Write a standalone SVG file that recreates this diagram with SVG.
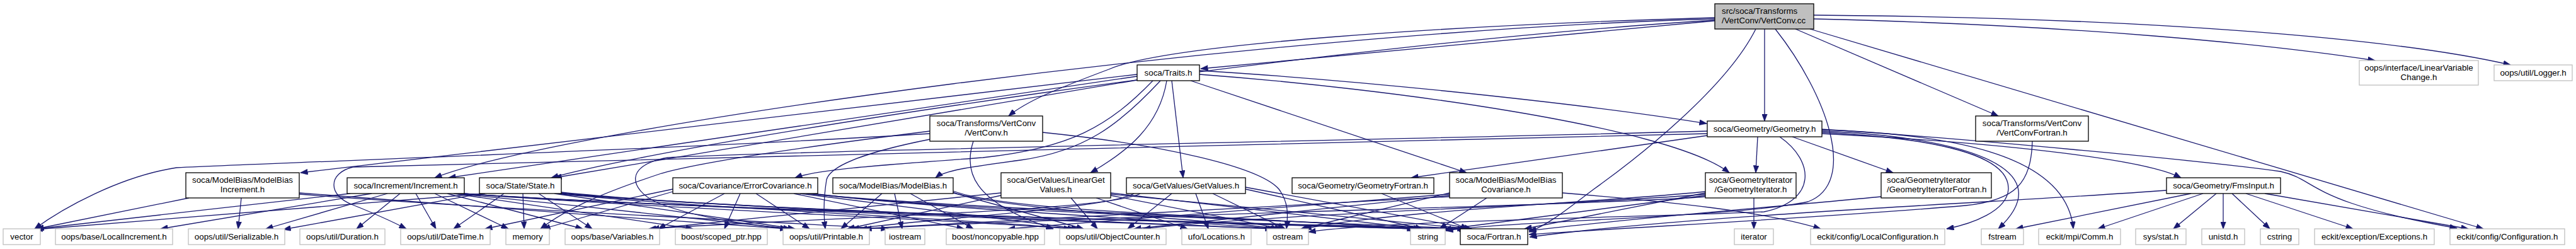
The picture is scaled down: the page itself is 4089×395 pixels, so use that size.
<svg xmlns="http://www.w3.org/2000/svg" width="4089" height="395" viewBox="0 0 4089 395">
<style>
rect{stroke-width:1.3}
.n rect{fill:#fff;stroke:#000}
.l rect{fill:#fff;stroke:#bfbfbf}
.m rect{fill:#bfbfbf;stroke:#000}
text{font-family:"Liberation Sans",Arial,Helvetica,sans-serif;font-size:13.33px;fill:#000;text-anchor:middle}
text.s{text-anchor:start}
#edges path{fill:none;stroke:#191970;stroke-width:1.3;marker-end:url(#arr)}
</style>
<defs>
<marker id="arr" markerUnits="userSpaceOnUse" markerWidth="12" markerHeight="9" viewBox="0 0 12 9" refX="11.5" refY="4.5" orient="auto">
<path d="M0,0 L12,4.5 L0,9 Z" fill="#191970" stroke="#191970" stroke-width="0.5"/>
</marker>
</defs>
<rect width="4089" height="395" fill="#fff"/>
<g id="edges">
<!-- main -->
<path d="M2722,33 L1906,109"/>
<path d="M2722,28 C2300,40 1850,70 1760,110 C1680,140 1630,160 1601,184"/>
<path d="M2722,30 C2000,50 900,200 690,282"/>
<path d="M2722,32 C2100,70 1100,220 875,282"/>
<path d="M2801,46 L2801,192"/>
<path d="M2850,46 L3172,184"/>
<path d="M2879,30 C3300,40 3600,70 3770,96"/>
<path d="M2879,24 C3400,28 3800,60 3985,103"/>
<path d="M2873,46 L3942,363"/>
<path d="M2787,46 C2740,140 2600,250 2530,300 C2490,330 2460,355 2427,368"/>
<path d="M2818,46 C2900,150 2950,290 2870,320 C2750,345 2400,350 2295,366"/>
<!-- Traits -->
<path d="M1805,118 L477,274"/>
<path d="M1805,121 L712,282"/>
<path d="M1805,127 L880,282"/>
<path d="M1830,128 C1760,200 1700,235 1560,250 C1400,262 1300,268 1262,282"/>
<path d="M1842,128 C1775,200 1720,240 1620,254 C1545,264 1500,270 1485,282"/>
<path d="M1852,128 C1840,200 1790,240 1731,274"/>
<path d="M1860,128 L1878,282"/>
<path d="M1890,128 L2328,274"/>
<path d="M1904,118 C2200,140 2650,200 2745,274"/>
<path d="M1904,112 C2200,130 2550,170 2709,196"/>
<!-- VertConv.h -->
<path d="M1476,212 C1100,235 500,256 280,266 C190,280 100,330 55,363"/>
<path d="M1476,208 C1300,230 1120,255 1050,275 C960,305 900,330 858,363"/>
<path d="M1655,210 C1850,230 2000,265 2030,300 C2045,320 2045,340 2042,363"/>
<path d="M1476,221 C1380,240 1318,262 1312,285 C1308,310 1307,340 1310,363"/>
<path d="M1545,224 C1530,270 1540,320 1672,363"/>
<!-- Geometry.h -->
<path d="M2710,215 L2240,282"/>
<path d="M2790,217 L2787,274"/>
<path d="M2845,217 L3005,274"/>
<path d="M2892,212 C3150,225 3400,250 3462,282"/>
<path d="M2892,206 C3080,212 3280,240 3291,363"/>
<path d="M2892,208 C3100,216 3280,262 3172,363"/>
<path d="M2892,210 C3050,218 3190,240 3188,300 C3186,335 3130,355 3090,363"/>
<path d="M2892,205 C3100,218 3500,255 3620,272 C3680,285 3660,320 3900,362"/>
<path d="M2825,217 C2880,255 2885,318 2800,336 C2600,345 2200,350 2077,368"/>
<path d="M2710,208 C2200,222 1300,238 1060,250 C990,262 1000,300 1040,320 C1100,345 1180,355 1250,363"/>
<path d="M2710,212 C2000,232 900,250 560,265 C520,275 520,310 560,325 C590,337 620,350 645,363"/>
<!-- FmsInput -->
<path d="M3478,307 L3200,363"/>
<path d="M3497,307 L3330,363"/>
<path d="M3518,307 L3450,363"/>
<path d="M3529,307 L3529,363"/>
<path d="M3543,307 L3603,363"/>
<path d="M3565,307 L3735,363"/>
<path d="M3595,307 L3918,363"/>
<path d="M3439,302 C3200,320 2700,340 2428,376"/>
<!-- VertConvFortran -->
<path d="M3226,224 C3224,290 3200,318 3120,326 C2900,345 2600,360 2427,372"/>
<!-- GeometryIteratorFortran -->
<path d="M2986,312 C2800,330 2600,345 2427,366"/>
<!-- GeometryIterator -->
<path d="M2784,314 L2784,363"/>
<path d="M2707,310 L2292,364"/>
<path d="M2707,306 L2420,363"/>
<path d="M2707,312 C2550,325 1800,340 1372,363"/>
<path d="M2707,308 C2550,323 2000,340 1815,363"/>
<path d="M2707,304 C2550,320 2200,335 2070,363"/>
<!-- ModelBiasCovariance -->
<path d="M2360,314 L2285,363"/>
<path d="M2480,306 C2650,320 2800,335 2890,363"/>
<path d="M2301,312 L1365,363"/>
<path d="M2301,308 L1600,363"/>
<path d="M2301,310 L1800,363"/>
<path d="M2301,306 L2065,363"/>
<!-- GeometryFortran -->
<path d="M2193,307 L2330,363"/>
<!-- GetValues -->
<path d="M1860,307 L1790,363"/>
<path d="M1898,307 L1918,363"/>
<path d="M1925,307 L2040,363"/>
<path d="M1977,300 L2258,363"/>
<path d="M1977,297 L2336,363"/>
<path d="M1800,307 C1760,330 1500,345 1352,363"/>
<path d="M1810,307 C1760,335 1300,345 1030,363"/>
<!-- LinearGetValues -->
<path d="M1700,314 L1742,363"/>
<path d="M1740,314 L1885,363"/>
<path d="M1763,310 L2035,363"/>
<path d="M1763,306 L2255,363"/>
<path d="M1763,308 L2333,363"/>
<path d="M1589,310 L1345,363"/>
<path d="M1589,306 L1035,363"/>
<!-- ModelBias -->
<path d="M1400,307 L1335,363"/>
<path d="M1420,307 L1432,363"/>
<path d="M1445,307 L1545,363"/>
<path d="M1513,303 C1600,335 1900,340 2252,363"/>
<path d="M1513,306 L1720,363"/>
<path d="M1513,305 C1600,335 1900,345 2030,363"/>
<!-- ErrorCovariance -->
<path d="M1150,307 L1045,363"/>
<path d="M1175,307 L1150,363"/>
<path d="M1200,307 L1285,363"/>
<path d="M1068,300 L770,363"/>
<path d="M1068,304 L862,363"/>
<path d="M1270,307 L1712,363"/>
<path d="M1260,307 L1530,363"/>
<path d="M1280,307 C1500,330 2000,345 2250,363"/>
<path d="M1285,307 C1500,332 1800,345 2028,363"/>
<path d="M1290,307 C1500,334 2000,348 2330,363"/>
<!-- State -->
<path d="M770,307 L56,364"/>
<path d="M800,307 L720,363"/>
<path d="M830,307 L832,363"/>
<path d="M855,307 L940,363"/>
<path d="M880,307 L1262,363"/>
<path d="M885,307 C1100,330 1500,345 1706,363"/>
<path d="M888,307 C1200,333 1700,348 2024,363"/>
<path d="M890,306 C1200,335 1800,350 2248,363"/>
<path d="M891,305 C1200,337 1900,352 2328,364"/>
<path d="M765,307 L450,364"/>
<!-- Increment -->
<path d="M556,307 L58,363"/>
<path d="M590,307 L255,363"/>
<path d="M615,307 L422,363"/>
<path d="M635,307 L566,363"/>
<path d="M660,307 L692,363"/>
<path d="M690,307 L807,363"/>
<path d="M710,307 L925,363"/>
<path d="M725,307 C900,325 1100,345 1255,363"/>
<path d="M730,307 C1000,328 1500,348 1700,363"/>
<path d="M733,307 C1100,330 1700,350 2020,363"/>
<path d="M735,307 C1100,332 1900,352 2245,363"/>
<path d="M736,307 C1100,334 2000,354 2325,363"/>
<path d="M720,307 L1100,363"/>
<!-- ModelBiasIncrement -->
<path d="M300,314 L58,363"/>
<path d="M383,314 L378,363"/>
<path d="M475,306 C700,325 1000,345 1250,363"/>
<path d="M475,308 C750,330 1200,350 1410,363"/>
</g>
<g id="node-main" class="m"><rect x="2722" y="6" width="157" height="40"/><text class="s" x="2733" y="22">src/soca/Transforms</text><text class="s" x="2733" y="37">/VertConv/VertConv.cc</text></g>
<g id="node-traits" class="n"><rect x="1805" y="103" width="99" height="25"/><text x="1854.5" y="120">soca/Traits.h</text></g>
<g id="node-lvc" class="l"><rect x="3745" y="96" width="189" height="39"/><text x="3839.5" y="112">oops/interface/LinearVariable</text><text x="3839.5" y="127">Change.h</text></g>
<g id="node-logger" class="l"><rect x="3959" y="103" width="124" height="25"/><text x="4021" y="120">oops/util/Logger.h</text></g>
<g id="node-vertconv" class="n"><rect x="1476" y="184" width="179" height="40"/><text x="1565.5" y="200">soca/Transforms/VertConv</text><text x="1565.5" y="215">/VertConv.h</text></g>
<g id="node-geometry" class="n"><rect x="2710" y="192" width="182" height="25"/><text x="2801" y="209">soca/Geometry/Geometry.h</text></g>
<g id="node-vcfortran" class="n"><rect x="3136" y="184" width="179" height="40"/><text x="3225.5" y="200">soca/Transforms/VertConv</text><text x="3225.5" y="215">/VertConvFortran.h</text></g>
<g id="node-mbinc" class="n"><rect x="295" y="274" width="180" height="40"/><text x="385" y="290">soca/ModelBias/ModelBias</text><text x="385" y="305">Increment.h</text></g>
<g id="node-increment" class="n"><rect x="551" y="282" width="186" height="25"/><text x="644" y="299">soca/Increment/Increment.h</text></g>
<g id="node-state" class="n"><rect x="761" y="282" width="130" height="25"/><text x="826" y="299">soca/State/State.h</text></g>
<g id="node-errcov" class="n"><rect x="1068" y="282" width="230" height="25"/><text x="1183" y="299">soca/Covariance/ErrorCovariance.h</text></g>
<g id="node-modelbias" class="n"><rect x="1322" y="282" width="191" height="25"/><text x="1417.5" y="299">soca/ModelBias/ModelBias.h</text></g>
<g id="node-lingetval" class="n"><rect x="1589" y="274" width="174" height="40"/><text x="1676" y="290">soca/GetValues/LinearGet</text><text x="1676" y="305">Values.h</text></g>
<g id="node-getvalues" class="n"><rect x="1788" y="282" width="189" height="25"/><text x="1882.5" y="299">soca/GetValues/GetValues.h</text></g>
<g id="node-geomfortran" class="n"><rect x="2051" y="282" width="225" height="25"/><text x="2163.5" y="299">soca/Geometry/GeometryFortran.h</text></g>
<g id="node-mbcov" class="n"><rect x="2301" y="274" width="179" height="40"/><text x="2390.5" y="290">soca/ModelBias/ModelBias</text><text x="2390.5" y="305">Covariance.h</text></g>
<g id="node-geomiter" class="n"><rect x="2707" y="274" width="144" height="40"/><text x="2779" y="290">soca/GeometryIterator</text><text x="2779" y="305">/GeometryIterator.h</text></g>
<g id="node-gifortran" class="n"><rect x="2986" y="274" width="175" height="40"/><text class="s" x="2995" y="290">soca/GeometryIterator</text><text class="s" x="2995" y="305">/GeometryIteratorFortran.h</text></g>
<g id="node-fmsinput" class="n"><rect x="3439" y="282" width="181" height="25"/><text x="3529.5" y="299">soca/Geometry/FmsInput.h</text></g>
<g id="node-vector" class="l"><rect x="5" y="363" width="59" height="25"/><text x="34.5" y="380">vector</text></g>
<g id="node-localinc" class="l"><rect x="88" y="363" width="186" height="25"/><text x="181" y="380">oops/base/LocalIncrement.h</text></g>
<g id="node-serializable" class="l"><rect x="299" y="363" width="153" height="25"/><text x="375.5" y="380">oops/util/Serializable.h</text></g>
<g id="node-duration" class="l"><rect x="476" y="363" width="135" height="25"/><text x="543.5" y="380">oops/util/Duration.h</text></g>
<g id="node-datetime" class="l"><rect x="636" y="363" width="142" height="25"/><text x="707" y="380">oops/util/DateTime.h</text></g>
<g id="node-memory" class="l"><rect x="803" y="363" width="69" height="25"/><text x="837.5" y="380">memory</text></g>
<g id="node-variables" class="l"><rect x="897" y="363" width="150" height="25"/><text x="972" y="380">oops/base/Variables.h</text></g>
<g id="node-scopedptr" class="l"><rect x="1072" y="363" width="146" height="25"/><text x="1145" y="380">boost/scoped_ptr.hpp</text></g>
<g id="node-printable" class="l"><rect x="1243" y="363" width="137" height="25"/><text x="1311.5" y="380">oops/util/Printable.h</text></g>
<g id="node-iostream" class="l"><rect x="1405" y="363" width="63" height="25"/><text x="1436.5" y="380">iostream</text></g>
<g id="node-noncopyable" class="l"><rect x="1502" y="363" width="156" height="25"/><text x="1580" y="380">boost/noncopyable.hpp</text></g>
<g id="node-objcounter" class="l"><rect x="1682" y="363" width="169" height="25"/><text x="1766.5" y="380">oops/util/ObjectCounter.h</text></g>
<g id="node-locations" class="l"><rect x="1876" y="363" width="110" height="25"/><text x="1931" y="380">ufo/Locations.h</text></g>
<g id="node-ostream" class="l"><rect x="2011" y="363" width="66" height="25"/><text x="2044" y="380">ostream</text></g>
<g id="node-string" class="l"><rect x="2239" y="363" width="55" height="25"/><text x="2266.5" y="380">string</text></g>
<g id="node-fortran" class="n"><rect x="2318" y="363" width="107" height="25"/><text x="2371.5" y="380">soca/Fortran.h</text></g>
<g id="node-iterator" class="l"><rect x="2753" y="363" width="62" height="25"/><text x="2784" y="380">iterator</text></g>
<g id="node-localconf" class="l"><rect x="2874" y="363" width="213" height="25"/><text x="2980.5" y="380">eckit/config/LocalConfiguration.h</text></g>
<g id="node-fstream" class="l"><rect x="3145" y="363" width="67" height="25"/><text x="3178.5" y="380">fstream</text></g>
<g id="node-comm" class="l"><rect x="3236" y="363" width="130" height="25"/><text x="3301" y="380">eckit/mpi/Comm.h</text></g>
<g id="node-stat" class="l"><rect x="3390" y="363" width="80" height="25"/><text x="3430" y="380">sys/stat.h</text></g>
<g id="node-unistd" class="l"><rect x="3495" y="363" width="68" height="25"/><text x="3529" y="380">unistd.h</text></g>
<g id="node-cstring" class="l"><rect x="3588" y="363" width="61" height="25"/><text x="3618.5" y="380">cstring</text></g>
<g id="node-exceptions" class="l"><rect x="3674" y="363" width="190" height="25"/><text x="3769" y="380">eckit/exception/Exceptions.h</text></g>
<g id="node-configuration" class="l"><rect x="3889" y="363" width="182" height="25"/><text x="3980" y="380">eckit/config/Configuration.h</text></g>
</svg>
